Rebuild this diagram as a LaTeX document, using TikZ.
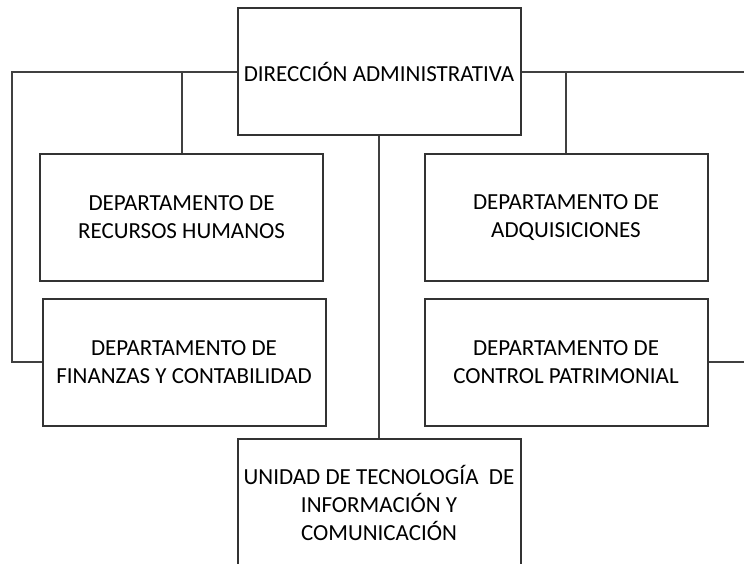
\documentclass[tikz,border=0pt]{standalone}
\usepackage{fontspec}
\setmainfont{Carlito}
\begin{document}
\begin{tikzpicture}[x=1pt, y=-1pt,
    caja/.style={draw=black!80, line width=2pt, minimum width=283pt, minimum height=127pt,
        inner sep=0pt, align=center, font=\fontsize{23}{28}\selectfont},
    linea/.style={draw=black!75, line width=2pt}]
    \useasboundingbox (0,0) rectangle (744,563);
    \clip (0,0) rectangle (744,563);
    \node[caja] (dir) at (379,71.5) {DIRECCIÓN ADMINISTRATIVA};
    \node[caja] (rrhh) at (181.5,217.5) {DEPARTAMENTO DE\\RECURSOS HUMANOS};
    \node[caja] (fin) at (184,362) {DEPARTAMENTO DE\\FINANZAS Y CONTABILIDAD};
    \node[caja] (adq) at (566,217.5) {DEPARTAMENTO DE\\ADQUISICIONES};
    \node[caja] (pat) at (566,362) {DEPARTAMENTO DE\\CONTROL PATRIMONIAL};
    \node[caja] (utic) at (379,502.5) {UNIDAD DE TECNOLOGÍA\ \ DE\\INFORMACIÓN Y\\COMUNICACIÓN};
    \coordinate (izq) at (12,0);
    \coordinate (der) at (752,0);
    \draw[linea] (dir.west) -- (izq |- dir.west) |- (fin.west);
    \draw[linea] (dir.east) -- (der |- dir.east) |- (pat.east);
    \draw[linea] (rrhh.north |- dir.west) -- (rrhh.north);
    \draw[linea] (adq.north |- dir.east) -- (adq.north);
    \draw[linea] (dir.south) -- (utic.north);
\end{tikzpicture}
\end{document}
